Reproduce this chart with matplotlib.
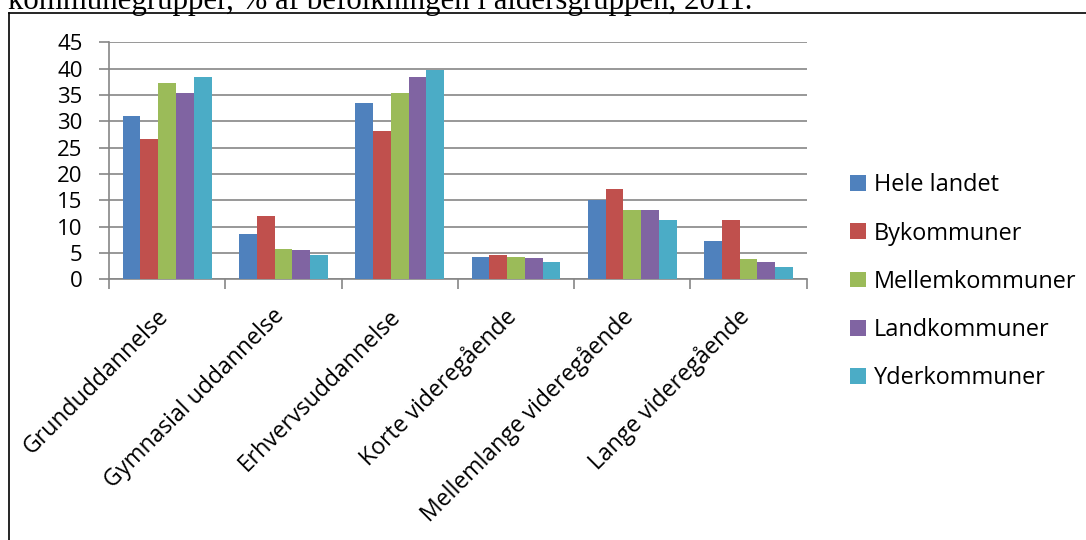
import numpy as np
import matplotlib
matplotlib.use("Agg")
import matplotlib.pyplot as plt
from matplotlib.lines import Line2D
from matplotlib.transforms import ScaledTranslation

# data
categories = ["Grunduddannelse", "Gymnasial uddannelse", "Erhvervsuddannelse",
              "Korte videregående", "Mellemlange videregående", "Lange videregående"]
series_names = ["Hele landet", "Bykommuner", "Mellemkommuner", "Landkommuner", "Yderkommuner"]
hele_landet = [31.1, 8.6, 33.4, 4.2, 15.1, 7.2]
bykommuner = [26.6, 12.0, 28.1, 4.6, 17.1, 11.3]
mellemkommuner = [37.2, 5.8, 35.3, 4.2, 13.2, 3.9]
landkommuner = [35.3, 5.5, 38.4, 4.1, 13.1, 3.2]
yderkommuner = [38.4, 4.7, 39.7, 3.2, 11.3, 2.3]
colors = ["#4F81BD", "#C0504D", "#9BBB59", "#8064A2", "#4BACC6"]
yticks = list(range(0, 50, 5))

W, H = 1086, 540
fig = plt.figure(figsize=(W / 100, H / 100), dpi=100)
font = "Open Sans"
grid_col = "#868686"

ax = fig.add_axes([109 / W, 1 - 279.3 / H, (806.7 - 109) / W, (279.3 - 42.3) / H])

x = np.arange(len(categories))
bw = 0.153
all_series = [hele_landet, bykommuner, mellemkommuner, landkommuner, yderkommuner]
for i, (vals, name, c) in enumerate(zip(all_series, series_names, colors)):
    ax.bar(x + (i - 2) * bw, vals, bw, color=c, label=name, zorder=3)

ax.set_xlim(-0.5, len(categories) - 0.5)
ax.set_ylim(0, 45)
ax.set_yticks(yticks)
ax.yaxis.grid(True, color=grid_col, lw=1.2, zorder=0)
for s in ["top", "right"]:
    ax.spines[s].set_visible(False)
for s in ["left", "bottom"]:
    ax.spines[s].set_color(grid_col)
    ax.spines[s].set_linewidth(1.2)

ax.tick_params(axis="y", length=7, width=1.2, color=grid_col, pad=12,
               labelsize=16, labelfontfamily=font)
ax.set_xticks(x)
ax.set_xticks(np.arange(-0.5, len(categories), 1), minor=True)
ax.tick_params(axis="x", which="major", length=0, pad=18)
ax.tick_params(axis="x", which="minor", length=7, width=1.2, color=grid_col)
ax.set_xticklabels(categories, rotation=45, ha="right", fontsize=16.6, family=font)
# nudge rotated labels a little to the right, like the original
shift = ScaledTranslation(6 / 100, 0, fig.dpi_scale_trans)
for lab in ax.get_xticklabels():
    lab.set_transform(lab.get_transform() + shift)

leg = fig.legend(loc="upper left", bbox_to_anchor=(841 / W, 1 - 164 / H),
                 frameon=False, prop={"family": font, "size": 16.9},
                 handlelength=0.65, handleheight=0.65, handletextpad=0.35,
                 labelspacing=1.03, borderaxespad=0)

# outer frame of the chart box (cut off at right and bottom)
fig.add_artist(Line2D([9 / W, 9 / W], [0, 1 - 12.7 / H], color="black", lw=1.2))
fig.add_artist(Line2D([9 / W, 1], [1 - 12.7 / H, 1 - 12.7 / H], color="black", lw=1.2))

# caption above the box, partly cut off by the crop
fig.text(8 / W, 1 - 9.5 / H, "kommunegrupper, % af befolkningen i aldersgruppen, 2011.",
         family="Liberation Serif", size=22.2, va="baseline", ha="left")

fig.savefig("out.png", dpi=100)
